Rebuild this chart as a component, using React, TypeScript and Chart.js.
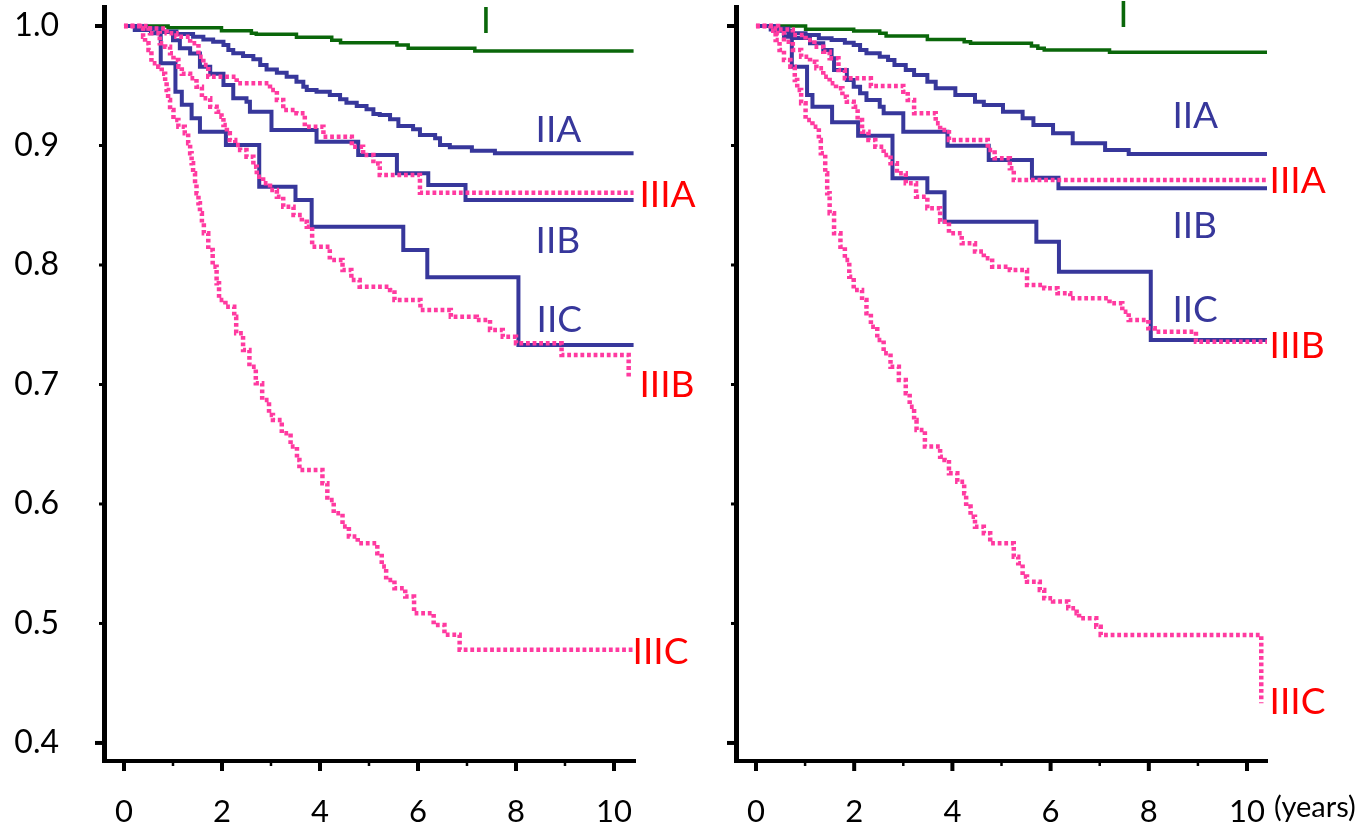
import React, { useEffect, useRef } from 'react';
import { Chart, registerables } from 'chart.js';

Chart.register(...registerables);

// ---------- Left panel data (years, survival) ----------
const L_I_t = [0, 0.9, 1.99, 2.6, 2.7, 3.52, 4.24, 4.42, 5.57, 5.8, 7.16, 10.4];
const L_I_s = [1, 0.9985, 0.996, 0.994, 0.993, 0.9905, 0.988, 0.986, 0.984, 0.9813, 0.979, 0.979];

const L_IIA_t = [0, 0.45, 0.73, 1.07, 1.41, 1.62, 1.82, 2.03, 2.13, 2.23, 2.43, 2.64, 2.78, 2.91, 3.12, 3.32, 3.52, 3.66, 3.73, 3.93, 4.2, 4.41, 4.54, 4.75, 4.95, 5.09, 5.22, 5.43, 5.6, 5.9, 6.04, 6.35, 6.45, 6.65, 7.1, 7.57, 10.4];
const L_IIA_s = [1, 0.998, 0.9953, 0.9933, 0.991, 0.9888, 0.9869, 0.984, 0.98, 0.9771, 0.9749, 0.9721, 0.9674, 0.9637, 0.9609, 0.9576, 0.9534, 0.9492, 0.9464, 0.945, 0.9423, 0.9387, 0.9358, 0.933, 0.9303, 0.9264, 0.9255, 0.9219, 0.9163, 0.9135, 0.9088, 0.906, 0.9004, 0.8985, 0.8957, 0.8935, 0.8935];

const L_IIB_t = [0, 0.4, 0.67, 1.0, 1.14, 1.35, 1.55, 1.76, 2.03, 2.23, 2.5, 2.57, 3.01, 3.93, 4.78, 5.57, 6.21, 6.97, 10.4];
const L_IIB_s = [1, 0.998, 0.995, 0.988, 0.9813, 0.977, 0.966, 0.96, 0.9506, 0.9395, 0.9367, 0.9283, 0.913, 0.9032, 0.892, 0.8767, 0.8669, 0.8544, 0.8544];

const L_IIC_t = [0, 0.22, 0.55, 0.75, 1.05, 1.18, 1.38, 1.55, 2.08, 2.76, 3.5, 3.83, 5.7, 6.19, 8.05, 10.4];
const L_IIC_s = [1, 0.9967, 0.994, 0.9688, 0.945, 0.934, 0.9228, 0.9116, 0.9004, 0.8655, 0.8544, 0.832, 0.8126, 0.7897, 0.733, 0.733];

const L_IIIA_t = [0, 0.5, 0.87, 1.07, 1.35, 1.52, 1.62, 1.72, 2.3, 2.98, 3.12, 3.25, 3.52, 3.69, 4.07, 4.65, 4.88, 5.09, 5.22, 6.04, 10.4];
const L_IIIA_s = [1, 0.998, 0.9939, 0.991, 0.9855, 0.9743, 0.9674, 0.9576, 0.952, 0.9464, 0.9381, 0.9297, 0.927, 0.9157, 0.9074, 0.899, 0.892, 0.885, 0.8753, 0.8605, 0.8605];

const L_IIIB_t = [0, 0.35, 0.53, 0.73, 0.84, 0.94, 1.01, 1.11, 1.18, 1.35, 1.48, 1.59, 1.76, 1.89, 1.99, 2.03, 2.1, 2.16, 2.27, 2.37, 2.5, 2.64, 2.71, 2.84, 2.98, 3.12, 3.25, 3.46, 3.63, 3.73, 3.84, 4.2, 4.46, 4.64, 4.81, 5.43, 5.52, 6.05, 6.67, 7.2, 7.47, 7.73, 8.0, 8.93, 10.3];
const L_IIIB_s = [1, 0.998, 0.9939, 0.9855, 0.9827, 0.9771, 0.9715, 0.966, 0.96, 0.9562, 0.9492, 0.9395, 0.9325, 0.9283, 0.9241, 0.9172, 0.9102, 0.9046, 0.9004, 0.8962, 0.8906, 0.8823, 0.8739, 0.8684, 0.8628, 0.8572, 0.8488, 0.8418, 0.8362, 0.832, 0.8153, 0.8042, 0.7958, 0.7874, 0.7818, 0.7791, 0.7707, 0.7623, 0.7567, 0.754, 0.7456, 0.74, 0.7344, 0.7247, 0.7066];

const L_IIIC_t = [0, 0.33, 0.39, 0.43, 0.5, 0.56, 0.7, 0.77, 0.84, 0.87, 0.9, 0.94, 1.01, 1.11, 1.24, 1.31, 1.35, 1.38, 1.41, 1.45, 1.48, 1.52, 1.55, 1.59, 1.63, 1.72, 1.81, 1.89, 1.94, 2.07, 2.25, 2.29, 2.43, 2.56, 2.69, 2.82, 2.96, 3.04, 3.22, 3.4, 3.53, 3.58, 4.05, 4.15, 4.28, 4.46, 4.59, 4.77, 5.17, 5.26, 5.35, 5.52, 5.74, 5.92, 6.32, 6.54, 6.85, 10.4];
const L_IIIC_s = [1, 0.998, 0.991, 0.9855, 0.98, 0.9688, 0.966, 0.96, 0.9534, 0.9464, 0.9381, 0.9297, 0.9213, 0.9157, 0.9102, 0.9018, 0.8935, 0.8851, 0.8767, 0.8684, 0.86, 0.8516, 0.8433, 0.8349, 0.8265, 0.8126, 0.7986, 0.7847, 0.7707, 0.7651, 0.7567, 0.7428, 0.7289, 0.7149, 0.701, 0.687, 0.6745, 0.6703, 0.6592, 0.648, 0.6368, 0.6285, 0.6174, 0.6034, 0.5922, 0.5812, 0.5727, 0.5672, 0.5588, 0.5477, 0.5364, 0.5295, 0.5225, 0.5086, 0.4988, 0.4905, 0.4779, 0.4779];

// ---------- Right panel data ----------
const R_I_t = [0, 1.01, 1.99, 2.52, 2.65, 3.49, 4.24, 4.37, 5.61, 5.74, 5.87, 7.2, 10.42];
const R_I_s = [1, 0.9972, 0.9958, 0.9939, 0.9916, 0.9888, 0.9869, 0.9855, 0.9833, 0.9813, 0.98, 0.978, 0.978];

const R_IIA_t = [0, 0.35, 0.66, 1.01, 1.28, 1.54, 1.81, 1.99, 2.12, 2.25, 2.52, 2.69, 2.82, 3.05, 3.22, 3.49, 3.66, 4.06, 4.46, 4.64, 5.03, 5.43, 5.65, 6.05, 6.45, 7.11, 7.59, 10.42];
const R_IIA_s = [1, 0.998, 0.9939, 0.9925, 0.9897, 0.9883, 0.986, 0.9841, 0.98, 0.9771, 0.9743, 0.9715, 0.9674, 0.9632, 0.959, 0.9534, 0.9478, 0.9423, 0.9367, 0.9339, 0.9283, 0.9228, 0.9172, 0.9102, 0.9018, 0.8962, 0.8929, 0.8929];

const R_IIB_t = [0, 0.4, 0.75, 1.1, 1.37, 1.54, 1.59, 1.85, 1.99, 2.12, 2.25, 2.52, 2.6, 3.0, 3.9, 4.74, 5.62, 6.16, 10.42];
const R_IIB_s = [1, 0.996, 0.99, 0.9855, 0.98, 0.973, 0.9632, 0.9548, 0.9492, 0.9437, 0.9381, 0.9325, 0.927, 0.9116, 0.8998, 0.8879, 0.873, 0.8642, 0.8642];

const R_IIC_t = [0, 0.3, 0.57, 0.73, 1.04, 1.15, 1.55, 2.08, 2.78, 3.49, 3.84, 5.71, 6.17, 8.04, 10.42];
const R_IIC_s = [1, 0.997, 0.991, 0.966, 0.9423, 0.9325, 0.9194, 0.9082, 0.8725, 0.8608, 0.8362, 0.8195, 0.7944, 0.7372, 0.7372];

const R_IIIA_t = [0, 0.45, 0.75, 1.01, 1.19, 1.37, 1.5, 1.68, 1.81, 2.34, 3.0, 3.09, 3.22, 3.66, 3.75, 3.93, 4.72, 4.86, 5.17, 5.25, 10.42];
const R_IIIA_s = [1, 0.997, 0.9925, 0.9883, 0.9827, 0.9785, 0.973, 0.9632, 0.9562, 0.9498, 0.945, 0.9381, 0.927, 0.9186, 0.913, 0.9046, 0.8962, 0.8893, 0.8809, 0.8711, 0.8711];

const R_IIIB_t = [0, 0.3, 0.44, 0.57, 0.75, 0.92, 1.1, 1.23, 1.37, 1.5, 1.63, 1.76, 1.85, 1.99, 2.07, 2.16, 2.29, 2.43, 2.6, 2.74, 2.87, 3.05, 3.26, 3.49, 3.75, 3.93, 4.19, 4.46, 4.64, 4.81, 5.17, 5.52, 5.87, 6.14, 6.4, 7.2, 7.46, 7.59, 7.99, 8.12, 8.96, 10.42];
const R_IIIB_s = [1, 0.998, 0.9939, 0.9869, 0.98, 0.9743, 0.9701, 0.9646, 0.9576, 0.952, 0.9478, 0.9408, 0.9367, 0.9325, 0.9213, 0.9116, 0.9046, 0.899, 0.892, 0.8851, 0.8767, 0.8684, 0.8572, 0.8475, 0.8362, 0.8265, 0.8181, 0.8112, 0.8056, 0.7986, 0.7958, 0.7833, 0.7805, 0.7763, 0.7721, 0.7679, 0.7609, 0.754, 0.747, 0.7442, 0.7358, 0.7358];

const R_IIIC_t = [0, 0.3, 0.4, 0.48, 0.57, 0.7, 0.79, 0.84, 0.92, 1.01, 1.15, 1.28, 1.32, 1.41, 1.45, 1.5, 1.59, 1.72, 1.81, 1.9, 1.99, 2.16, 2.25, 2.34, 2.47, 2.6, 2.74, 2.91, 3.05, 3.13, 3.22, 3.27, 3.44, 3.75, 3.84, 3.93, 4.1, 4.24, 4.28, 4.37, 4.46, 4.64, 4.77, 5.25, 5.34, 5.43, 5.52, 5.78, 5.87, 6.05, 6.36, 6.53, 6.58, 6.93, 7.02, 10.29];
const R_IIIC_s = [1, 0.996, 0.9883, 0.98, 0.9715, 0.966, 0.9548, 0.9464, 0.9353, 0.9213, 0.9157, 0.9046, 0.8935, 0.8767, 0.86, 0.8433, 0.8265, 0.8153, 0.8042, 0.7902, 0.7791, 0.7707, 0.7596, 0.7484, 0.7372, 0.7261, 0.7149, 0.7038, 0.6926, 0.6814, 0.6703, 0.662, 0.648, 0.6396, 0.6368, 0.6257, 0.6187, 0.609, 0.5978, 0.5894, 0.581, 0.5755, 0.5671, 0.5559, 0.5503, 0.5392, 0.535, 0.528, 0.5211, 0.5183, 0.5127, 0.5086, 0.5044, 0.4973, 0.4904, 0.4332];

// ---------- Axis / tick definitions ----------
const X_TICK_STEP = 1;
const Y_TICK_STEP = 0.1;
const X_UNIT = '(years)';

// ---------- Curve labels (text, anchor in data coordinates) ----------
const LEFT_LABELS = [
  { text: 'I', t: 7.28, v: 0.9941, kind: 'I' },
  { text: 'IIA', t: 8.4, v: 0.9029, kind: 'II' },
  { text: 'IIIA', t: 10.52, v: 0.8485, kind: 'III' },
  { text: 'IIB', t: 8.4, v: 0.81, kind: 'II' },
  { text: 'IIC', t: 8.42, v: 0.7439, kind: 'II' },
  { text: 'IIIB', t: 10.52, v: 0.6895, kind: 'III' },
  { text: 'IIIC', t: 10.38, v: 0.4661, kind: 'III' },
];
const RIGHT_LABELS = [
  { text: 'I', t: 7.38, v: 0.9992, kind: 'I' },
  { text: 'IIA', t: 8.48, v: 0.9146, kind: 'II' },
  { text: 'IIIA', t: 10.46, v: 0.8603, kind: 'III' },
  { text: 'IIB', t: 8.48, v: 0.8226, kind: 'II' },
  { text: 'IIC', t: 8.48, v: 0.7523, kind: 'II' },
  { text: 'IIIB', t: 10.46, v: 0.7222, kind: 'III' },
  { text: 'IIIC', t: 10.46, v: 0.4243, kind: 'III' },
];

// ---------- Styles ----------
const GREEN = '#0a670a';
const BLUE = '#37379b';
const PINK = '#ff3aa0';
const RED = '#ff0000';
const FONT = 'Lato';
const TICK_FONT_SIZE = 31;
const LABEL_COLORS: Record<string, string> = { I: GREEN, II: BLUE, III: RED };

function pts(t: number[], s: number[]) {
  return t.map((x, i) => ({ x, y: s[i] }));
}

function curve(label: string, t: number[], s: number[], kind: 'I' | 'II' | 'III') {
  const base: any = {
    label,
    data: pts(t, s),
    stepped: true,
    pointRadius: 0,
    pointHoverRadius: 0,
    fill: false,
    tension: 0,
    borderJoinStyle: 'miter',
  };
  if (kind === 'I') return { ...base, borderColor: GREEN, borderWidth: 3.5, order: 2 };
  if (kind === 'II') return { ...base, borderColor: BLUE, borderWidth: 4, order: 1 };
  return { ...base, borderColor: PINK, borderWidth: 4.5, borderDash: [3.8, 2.8], order: 0 };
}

const LEFT_DATASETS = () => [
  curve('I', L_I_t, L_I_s, 'I'),
  curve('IIA', L_IIA_t, L_IIA_s, 'II'),
  curve('IIB', L_IIB_t, L_IIB_s, 'II'),
  curve('IIC', L_IIC_t, L_IIC_s, 'II'),
  curve('IIIA', L_IIIA_t, L_IIIA_s, 'III'),
  curve('IIIB', L_IIIB_t, L_IIIB_s, 'III'),
  curve('IIIC', L_IIIC_t, L_IIIC_s, 'III'),
];
const RIGHT_DATASETS = () => [
  curve('I', R_I_t, R_I_s, 'I'),
  curve('IIA', R_IIA_t, R_IIA_s, 'II'),
  curve('IIB', R_IIB_t, R_IIB_s, 'II'),
  curve('IIC', R_IIC_t, R_IIC_s, 'II'),
  curve('IIIA', R_IIIA_t, R_IIIA_s, 'III'),
  curve('IIIB', R_IIIB_t, R_IIIB_s, 'III'),
  curve('IIIC', R_IIIC_t, R_IIIC_s, 'III'),
];

const decorPlugin = {
  id: 'decor',
  afterDraw(chart: any, _args: any, opts: any) {
    const { ctx, chartArea } = chart;
    const xs = chart.scales.x;
    const ys = chart.scales.y;
    ctx.save();
    ctx.strokeStyle = '#000';
    ctx.lineCap = 'butt';
    // x tick marks
    for (const tk of xs.ticks) {
      const v = Math.round(tk.value);
      const px = xs.getPixelForValue(tk.value);
      const major = v % 2 === 0;
      ctx.lineWidth = major ? 4 : 2.5;
      const y0 = chartArea.bottom + 2;
      ctx.beginPath();
      ctx.moveTo(px, y0);
      ctx.lineTo(px, y0 + (major ? 8 : 3));
      ctx.stroke();
    }
    // y tick marks
    for (const tk of ys.ticks) {
      const py = ys.getPixelForValue(tk.value);
      const end = Math.abs(tk.value - 1) < 1e-6 || Math.abs(tk.value - 0.4) < 1e-6;
      ctx.lineWidth = end ? 4 : 3;
      const x0 = chartArea.left - 2;
      ctx.beginPath();
      ctx.moveTo(x0, py);
      ctx.lineTo(x0 - (end ? 7 : 3), py);
      ctx.stroke();
    }
    // curve labels
    ctx.font = `37px ${FONT}`;
    ctx.textBaseline = 'alphabetic';
    ctx.textAlign = 'left';
    for (const lb of opts.labels || []) {
      ctx.fillStyle = LABEL_COLORS[lb.kind];
      ctx.fillText(lb.text, xs.getPixelForValue(lb.t), ys.getPixelForValue(lb.v));
    }
    // unit after last x label
    if (opts.unit) {
      ctx.fillStyle = '#000';
      ctx.textBaseline = 'alphabetic';
      const last = xs.ticks[xs.ticks.length - 1];
      const lbl = String(Math.round(last.value));
      ctx.font = `${TICK_FONT_SIZE}px ${FONT}`;
      const w = ctx.measureText(lbl).width;
      ctx.font = `${TICK_FONT_SIZE - 2}px ${FONT}`;
      const px = xs.getPixelForValue(last.value);
      ctx.fillText(opts.unit, px + w / 2 + 9, chartArea.bottom + 56);
    }
    ctx.restore();
  },
};

type PanelProps = {
  left: number;
  width: number;
  yAxisWidth: number;
  padRight: number;
  xMin: number;
  xMax: number;
  showYLabels: boolean;
  datasets: any[];
  labels: any[];
  unit?: string;
};

function Panel(p: PanelProps) {
  const ref = useRef<HTMLCanvasElement>(null);
  useEffect(() => {
    const chart = new Chart(ref.current as HTMLCanvasElement, {
      type: 'line',
      data: { datasets: p.datasets },
      plugins: [decorPlugin],
      options: {
        responsive: false,
        animation: false,
        devicePixelRatio: 1,
        events: [],
        layout: { padding: { top: 7, right: p.padRight, left: 0, bottom: 0 } },
        plugins: {
          legend: { display: false },
          title: { display: false },
          tooltip: { enabled: false },
          decor: { labels: p.labels, unit: p.unit },
        } as any,
        scales: {
          x: {
            type: 'linear',
            min: p.xMin,
            max: p.xMax,
            grid: { display: false },
            border: { display: true, color: '#000', width: 4 },
            afterFit: (s: any) => {
              s.height = 64;
              s.paddingLeft = 0;
              s.paddingRight = 0;
            },
            ticks: {
              stepSize: X_TICK_STEP,
              includeBounds: false,
              autoSkip: false,
              maxRotation: 0,
              padding: 24,
              color: '#000',
              font: { family: FONT, size: TICK_FONT_SIZE },
              callback: (v: any) => {
                const n = Math.round(Number(v));
                return n % 2 === 0 ? String(n) : '';
              },
            },
          },
          y: {
            type: 'linear',
            min: 0.3849,
            max: 1.0159,
            grid: { display: false },
            border: { display: true, color: '#000', width: 5 },
            afterFit: (s: any) => {
              s.width = p.yAxisWidth;
              s.paddingTop = 0;
              s.paddingBottom = 0;
            },
            ticks: {
              display: p.showYLabels,
              stepSize: Y_TICK_STEP,
              includeBounds: false,
              autoSkip: false,
              padding: 37,
              color: '#000',
              font: { family: FONT, size: TICK_FONT_SIZE + 1 },
              callback: (v: any) => Number(v).toFixed(1),
            },
          },
        },
      } as any,
    });
    return () => chart.destroy();
  }, []);
  return (
    <canvas
      ref={ref}
      width={p.width}
      height={825}
      style={{ position: 'absolute', left: p.left, top: 0, width: p.width, height: 825 }}
    />
  );
}

export default function App() {
  return (
    <div style={{ position: 'absolute', left: 0, top: 0, width: 1358, height: 825, background: '#fff' }}>
      <Panel
        left={0}
        width={700}
        yAxisWidth={104}
        padRight={65}
        xMin={-0.408}
        xMax={10.429}
        showYLabels={true}
        datasets={LEFT_DATASETS()}
        labels={LEFT_LABELS}
      />
      <Panel
        left={700}
        width={658}
        yAxisWidth={36}
        padRight={91}
        xMin={-0.407}
        xMax={10.407}
        showYLabels={false}
        datasets={RIGHT_DATASETS()}
        labels={RIGHT_LABELS}
        unit={X_UNIT}
      />
    </div>
  );
}
